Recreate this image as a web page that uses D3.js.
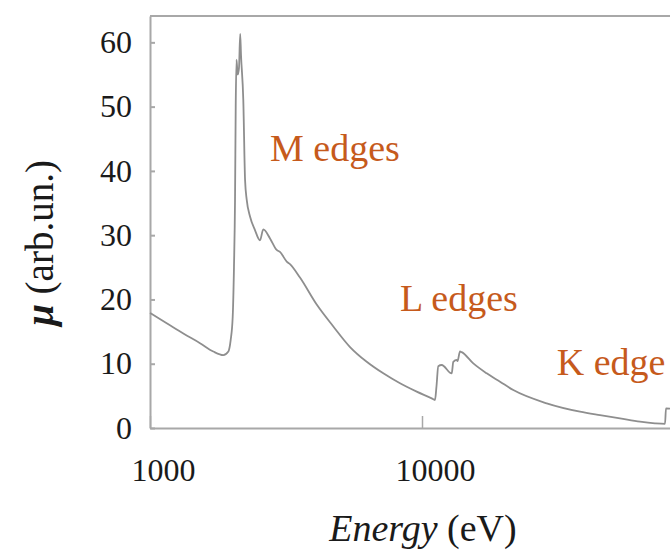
<!DOCTYPE html>
<html>
<head>
<meta charset="utf-8">
<script src="https://cdn.jsdelivr.net/npm/d3@7"></script>
<style>
  body { margin: 0; background: #fff; }
  svg text { font-family: "Liberation Serif", "DejaVu Serif", serif; }
</style>
</head>
<body>
<div id="chart"></div>
<script>
// absorption curve (energy in eV, mu in arb. units)
var energy = [1000, 1152, 1326, 1527, 1709, 1860, 1941, 1980, 2014, 2036,
  2054, 2066, 2080, 2101, 2124, 2146, 2161, 2203, 2236, 2268,
  2332, 2432, 2537, 2609, 2762, 2923, 3005, 3182, 3271, 3560,
  4101, 4720, 5438, 6263, 7206, 8302, 9561, 10857, 11164, 11305,
  11477, 11815, 12859, 13035, 13416, 13505, 13794, 13993, 15439, 17295,
  19361, 21665, 28740, 38103, 45122, 53454, 63314, 71888, 78250, 78886, 81620];
var mu = [17.9, 16.3, 14.7, 13.2, 11.9, 11.35, 11.9, 13.7, 17.3, 25.1,
  35.5, 50, 57.3, 55.0, 56, 61.3, 58, 51, 38.6, 35.5,
  32.9, 30.8, 29.2, 30.9, 29.5, 27.7, 27.4, 25.9, 25.5, 23.4,
  19.2, 15.8, 12.6, 10.3, 8.5, 6.95, 5.65, 4.6, 4.35, 6.5,
  9.6, 9.8, 8.5, 10.3, 10.6, 10.4, 11.9, 11.8, 10.05, 8.5,
  7.2, 5.9, 3.84, 2.54, 2.0, 1.5, 0.98, 0.73, 0.65, 3.06, 3.0];

var yTicks = [0, 10, 20, 30, 40, 50, 60];
var xTicks = [1000, 10000];

// annotations: label + anchor (energy, mu) where the text starts
var notes = [
  { text: "M edges", e: 2762, v: 41.6 },
  { text: "L edges", e: 8302, v: 18.2 },
  { text: "K edge", e: 31300, v: 8.3 }
];

var width = 670, height = 551;
var svg = d3.select("#chart").append("svg")
  .attr("width", width)
  .attr("height", height);

// 272 px per decade, plot box runs past the right edge
var x = d3.scaleLog().domain([1000, 100000]).range([150, 694]);
var y = d3.scaleLinear().domain([0, 64.1]).range([428, 16]);

//frame top line
svg.append("line")
  .attr("x1", 150).attr("x2", 694)
  .attr("y1", y(64.1)).attr("y2", y(64.1))
  .attr("stroke", "#a8a8a8")
  .attr("stroke-width", 2);

//y axis
var yAxis = svg.append("g")
  .attr("transform", "translate(150,0)")
  .call(d3.axisLeft(y).tickValues(yTicks).tickSize(-5).tickPadding(18).tickSizeOuter(0));
yAxis.attr("font-family", null);
yAxis.select(".domain").attr("stroke", "#a8a8a8").attr("stroke-width", 2);
yAxis.selectAll(".tick line").attr("stroke", "#a8a8a8").attr("stroke-width", 2);
yAxis.selectAll(".tick text")
  .attr("font-size", 32)
  .attr("fill", "#1a1a1a");

//x axis
var xAxis = svg.append("g")
  .attr("transform", "translate(0,428)")
  .call(d3.axisBottom(x).tickValues(xTicks).tickFormat(d3.format("d"))
    .tickSize(-12).tickPadding(30).tickSizeOuter(0));
xAxis.attr("font-family", null);
xAxis.select(".domain").attr("stroke", "#a8a8a8").attr("stroke-width", 2);
xAxis.selectAll(".tick line").attr("stroke", "#a8a8a8").attr("stroke-width", 1.5);
xAxis.selectAll(".tick text")
  .attr("font-size", 32)
  .attr("fill", "#1a1a1a")
  .attr("dx", 13);

//curve
var points = energy.map((e, i) => ({ e: e, v: mu[i] }));
var line = d3.line()
  .x((d) => x(d.e))
  .y((d) => y(d.v))
  .curve(d3.curveMonotoneX);

svg.append("path")
  .datum(points)
  .attr("d", line)
  .attr("fill", "none")
  .attr("stroke", "#8e8e8e")
  .attr("stroke-width", 1.8)
  .attr("stroke-linejoin", "round");

//edge labels
svg.selectAll(".note")
  .data(notes)
  .join("text")
  .attr("class", "note")
  .attr("x", (d) => x(d.e))
  .attr("y", (d) => y(d.v))
  .attr("font-size", 38)
  .attr("fill", "#c65a1c")
  .text((d) => d.text);

//axis titles
var xt = svg.append("text")
  .attr("x", 423)
  .attr("y", 541)
  .attr("text-anchor", "middle")
  .attr("font-size", 38)
  .attr("fill", "#1a1a1a");
xt.append("tspan").attr("font-style", "italic").text("Energy");
xt.append("tspan").text(" (eV)");

var yt = svg.append("text")
  .attr("transform", "translate(53,243) rotate(-90)")
  .attr("text-anchor", "middle")
  .attr("font-size", 39)
  .attr("fill", "#1a1a1a");
yt.append("tspan").attr("font-style", "italic").attr("font-weight", "bold").text("μ");
yt.append("tspan").text(" (arb.un.)");
</script>
</body>
</html>
